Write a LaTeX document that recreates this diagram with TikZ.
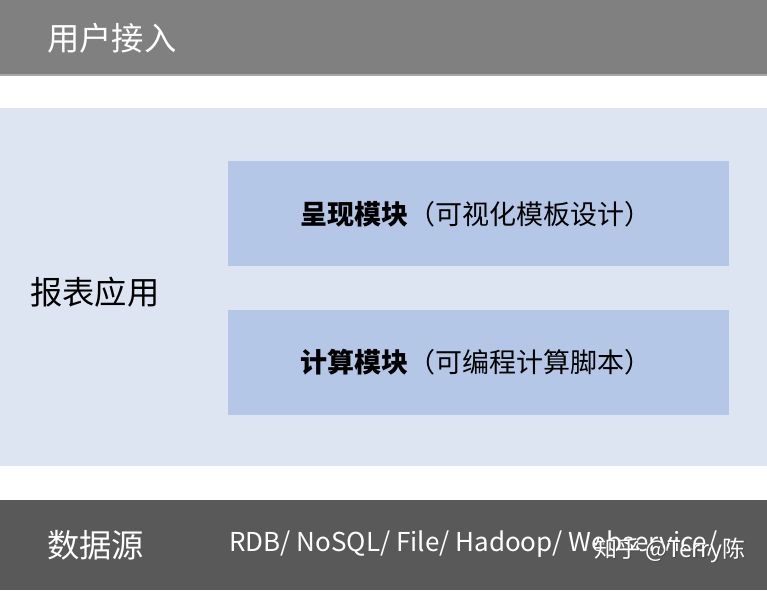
\documentclass[tikz,border=0pt]{standalone}
\usepackage{fontspec}
\setmainfont{Noto Sans CJK SC}
\newfontfamily\cjk{Noto Sans CJK SC}
\definecolor{topgray}{HTML}{808080}
\definecolor{botgray}{HTML}{595959}
\definecolor{panelblue}{HTML}{DEE5F2}
\definecolor{boxblue}{HTML}{B4C7E7}
\tikzset{
  bigtxt/.style={font=\cjk\fontsize{32.3}{36}\selectfont, inner sep=0pt, anchor=west},
  modbox/.style={fill=boxblue, draw=none, minimum width=501pt, minimum height=105pt, anchor=north west, inner sep=0pt},
  modtxt/.style={font=\cjk\fontsize{27}{32}\selectfont, text=black, inner sep=0pt},
  marktxt/.style={font=\cjk\fontsize{23}{27}\selectfont, inner sep=0pt, anchor=west}
}
\begin{document}
\begin{tikzpicture}[x=1pt,y=-1pt]
\useasboundingbox (0,0) rectangle (767,590);
\fill[white] (0,0) rectangle (767,590);
% top bar
\fill[topgray] (0,0) rectangle (767,75);
\fill[black!35] (0,74) rectangle (767,76);
\node[bigtxt, text=white] (user) at (47,38) {用户接入};
% panel
\fill[panelblue] (0,108) rectangle (767,466);
\node[bigtxt, text=black] (report) at (30,292) {报表应用};
\node[modbox] (present) at (228,161) {};
\node[modbox] (compute) at (228,310) {};
\node[modtxt] (presentt) at (476,214) {\textbf{呈现模块}（可视化模板设计）};
\node[modtxt] (computet) at (476,362) {\textbf{计算模块}（可编程计算脚本）};
% bottom bar
\fill[botgray] (0,500) rectangle (767,590);
\node[bigtxt, text=white] (source) at (47,545) {数据源};
\node[font=\cjk\fontsize{26}{30}\selectfont, text=white, inner sep=0pt, anchor=west] (list) at (229,544) {RDB/ NoSQL/ File/ Hadoop/ Webservice/};
\node[marktxt, text=black!70] (markshadow) at (595.5,551.5) {知乎 @Terry陈};
\node[marktxt, text=white] (mark) at (594,550) {知乎 @Terry陈};
\end{tikzpicture}
\end{document}
